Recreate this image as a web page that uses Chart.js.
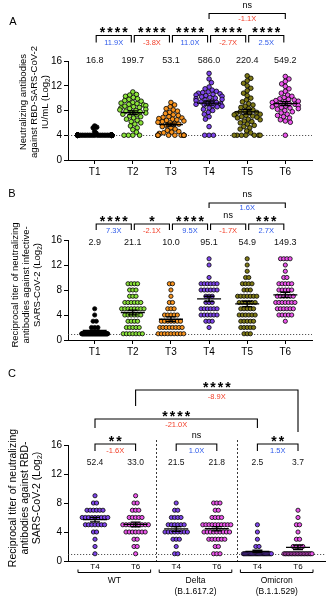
<!DOCTYPE html>
<html><head><meta charset="utf-8">
<script src="https://cdn.jsdelivr.net/npm/chart.js@4.4.1/dist/chart.umd.min.js"></script>
<style>
html,body{margin:0;padding:0;background:#fff;}
body{width:331px;height:605px;overflow:hidden;position:relative;}
canvas{position:absolute;left:0;}
</style></head>
<body>
<canvas id="cA" width="331" height="185" style="top:0px"></canvas>
<canvas id="cB" width="331" height="180" style="top:185px"></canvas>
<canvas id="cC" width="331" height="240" style="top:365px"></canvas>
<script>
const fam = '"Liberation Sans", Arial, Helvetica, sans-serif';

// ---------- Panel A (IU/mL, Log2) ----------
const catsAB = ['T1','T2','T3','T4','T5','T6'];
const gmA = ['16.8','199.7','53.1','586.0','220.4','549.2'];
const sigA = ['****','****','****','****','****'];
const foldA = ['11.9X','-3.8X','11.0X','-2.7X','2.5X'];
const sigA_T4T6 = 'ns';
const foldA_T4T6 = '-1.1X';
const titleA = ['Neutralizing antibodies','against RBD-SARS-CoV-2','IU/mL (Log2)'];
const aT1 = [5.5,5.3,5.2,4.6,4.3,
  4,4,4,4,4,4,4,4,4,4,4,4,4,4,4,4,4,4,4,4,4,4,4,4,4,4,4,4,4,4,4,4,4,4,4,4,4,4,
  4,4,4,4,4,4,4,4,4,4,4,4,4,4,4,4,4,4,4,4,4,4,4,4,4,4,4,4,4,4];
const aT2 = [11.0,10.6,10.5,10.3,10.1,9.9,9.8,9.6,9.5,9.3,9.2,9.1,9.0,8.9,8.8,8.7,8.6,8.5,8.4,8.3,8.2,8.1,8.0,7.9,7.8,7.7,7.6,7.4,7.3,7.1,7.0,6.8,6.6,6.4,6.2,6.0,5.8,5.5,5.2,4.9,4.5,4.0,4.0,4.0,4.0];
const aT3 = [9.3,8.9,8.6,8.3,8.1,7.9,7.7,7.5,7.3,7.2,7.0,6.9,6.8,6.7,6.6,6.5,6.4,6.3,6.2,6.1,6.0,5.9,5.8,5.6,5.4,5.2,5.0,4.8,4.6,4.5,4.4,4.3,4,4,4,4,4,4,4,4,4,4,4];
const aT4 = [14.0,13.1,12.5,11.8,11.5,11.3,11.1,11.0,10.9,10.8,10.7,10.6,10.5,10.4,10.3,10.2,10.1,10.0,9.9,9.8,9.7,9.6,9.5,9.4,9.3,9.2,9.1,9.0,8.9,8.8,8.7,8.6,8.4,8.2,8.0,7.7,7.4,7.0,6.6,5.4,4.0,4.0,4.0];
const aT5 = [13.6,13.2,12.8,12.4,12.0,11.6,11.2,10.8,10.4,10.0,9.7,9.4,9.1,8.9,8.7,8.5,8.3,8.1,7.9,7.8,7.7,7.6,7.5,7.4,7.3,7.2,7.1,7.0,6.9,6.8,6.6,6.5,6.3,6.2,6.0,5.8,5.6,5.4,5.2,5.0,4.7,4.4,4,4,4,4,4,4,4];
const aT6 = [13.5,13.1,12.7,12.3,11.9,11.5,11.1,10.8,10.5,10.3,10.1,9.9,9.8,9.7,9.6,9.5,9.4,9.3,9.2,9.1,9.0,8.9,8.8,8.7,8.6,8.5,8.4,8.3,8.2,8.0,7.8,7.6,7.4,7.2,7.0,6.8,6.5,6.3,6.1,4.0];

// ---------- Panel B (infective SARS-CoV-2, counts per Log2 level) ----------
const gmB = ['2.9','21.1','10.0','95.1','54.9','149.3'];
const sigB = ['****','*','****','ns','***'];
const foldB = ['7.3X','-2.1X','9.5X','-1.7X','2.7X'];
const sigB_T4T6 = 'ns';
const foldB_T4T6 = '1.6X';
const titleB = ['Reciprocal titer of neutralizing','antibodies against infective-','SARS-CoV-2 (Log2)'];
const levelsB = [1,2,3,4,5,6,7,8,9,10,11,12,13];
const bT1 = [60,3,2,1,1,0,0,0,0,0,0,0,0];
const bT2 = [7,5,4,6,8,6,3,3,4,0,0,0,0];
const bT3 = [9,8,7,5,3,2,1,1,2,0,0,0,0];
const bT4 = [0,1,3,6,6,3,3,6,6,1,0,1,1];
const bT5 = [3,5,5,6,5,6,7,3,4,2,1,1,1];
const bT6 = [0,0,1,5,6,7,6,5,5,2,1,1,4];

// ---------- Panel C (variants, counts per Log2 level) ----------
const catsC = ['T4','T6','T4','T6','T4','T6'];
const variantsC = [['WT'],['Delta','(B.1.617.2)'],['Omicron','(B.1.1.529)']];
const gmC = ['52.4','33.0','21.5','21.8','2.5','3.7'];
const sigC = ['**','ns','**'];
const foldC = ['-1.6X','1.0X','1.5X'];
const sigC_WT_Omi_T4 = '****', foldC_WT_Omi_T4 = '-21.0X';
const sigC_WT_Omi_T6 = '****', foldC_WT_Omi_T6 = '-8.9X';
const titleC = ['Reciprocal titer of neutralizing','antibodies against RBD-','SARS-CoV-2 (Log2)'];
const levelsC = [1,2,3,4,5,6,7,8,9];
const cWT_T4 = [1,1,1,2,7,9,6,2,1];
const cWT_T6 = [1,2,2,7,9,5,3,2,1];
const cDelta_T4 = [2,1,3,8,6,4,2,1,0];
const cDelta_T6 = [3,2,6,9,10,4,2,3,0];
const cOmi_T4 = [25,2,1,1,1,0,0,0,0];
const cOmi_T6 = [20,4,2,1,2,1,1,0,0];

const colAB = ['#000000','#8BE33A','#F7931E','#7E45EA','#7F7A16','#EC56EC'];
const colC = ['#7E45EA','#EC56EC','#7E45EA','#EC56EC','#7E45EA','#EC56EC'];
const BLUE = '#2F5BEA', RED = '#F2402A';

function expand(levels, counts){ const out=[]; counts.forEach((n,i)=>{ for(let k=0;k<n;k++) out.push(levels[i]); }); return out; }

// ---- layouts ----
function swarmLayout(vals, ys, d, maxHalf){
  const order = vals.map((v,i)=>i).sort((a,b)=>vals[b]-vals[a]);
  const placed=[]; let flip=1; const out=[];
  for(const i of order){
    const y = ys.getPixelForValue(vals[i]);
    const near = placed.filter(p=>Math.abs(p.y-y)<d);
    const cands=[0];
    near.forEach(p=>{const dx=Math.sqrt(d*d-(p.y-y)*(p.y-y)); cands.push(p.x+dx,p.x-dx);});
    const valid=cands.filter(c=>near.every(p=>(p.x-c)*(p.x-c)+(p.y-y)*(p.y-y)>=d*d-1e-6));
    valid.sort((a,b)=>(Math.abs(a)-Math.abs(b))||(flip>0?b-a:a-b));
    let x=valid[0];
    if(Math.abs(x)>maxHalf){ x=(x>0?1:-1)*maxHalf; }
    if(x!==0) flip=-flip;
    placed.push({x,y}); out.push({v:vals[i],dx:x});
  }
  return out;
}
function rowLayout(vals, sp, maxSpan){
  const m=new Map(); vals.forEach(v=>m.set(v,(m.get(v)||0)+1));
  const out=[];
  for(const [v,n] of m){ const s=n>1?Math.min(sp,maxSpan/(n-1)):0; for(let i=0;i<n;i++) out.push({v,dx:(i-(n-1)/2)*s}); }
  return out;
}

// ---- drawing helpers ----
function drawSubText(ctx, text, size){
  const idx=text.indexOf('Log2');
  ctx.textBaseline='middle';
  if(idx<0){ ctx.textAlign='center'; ctx.fillText(text,0,0); return; }
  const a=text.slice(0,idx+3), b=text.slice(idx+4);
  const fMain=`${size}px ${fam}`, fSub=`${(size*0.68).toFixed(1)}px ${fam}`;
  ctx.font=fMain; const wa=ctx.measureText(a).width, wb=ctx.measureText(b).width;
  ctx.font=fSub; const ws=ctx.measureText('2').width;
  const x0=-(wa+ws+wb)/2; ctx.textAlign='left';
  ctx.font=fMain; ctx.fillText(a,x0,0);
  ctx.font=fSub; ctx.fillText('2',x0+wa,size*0.3);
  ctx.font=fMain; ctx.fillText(b,x0+wa+ws,0);
}
function drawTitle(ctx, lines, xs, cy, size){
  ctx.save(); ctx.fillStyle='#000';
  lines.forEach((ln,i)=>{ ctx.save(); ctx.translate(xs[i],cy); ctx.rotate(-Math.PI/2); ctx.font=`${size}px ${fam}`; drawSubText(ctx,ln,size); ctx.restore(); });
  ctx.restore();
}
function drawSig(ctx, s, x, lineY){
  ctx.save(); ctx.fillStyle='#000'; ctx.textAlign='center'; ctx.textBaseline='alphabetic';
  if(s==='ns'){ ctx.font=`9px ${fam}`; ctx.fillText(s,x,lineY-6); }
  else { ctx.font=`bold 14px ${fam}`; ctx.letterSpacing='2px'; ctx.fillText(s,x+1,lineY+1.5); }
  ctx.restore();
}
function drawBracket(ctx, xs, b){
  const x1=xs.getPixelForValue(b.a)+(b.inset||0), x2=xs.getPixelForValue(b.b)-(b.inset||0);
  ctx.save(); ctx.strokeStyle='#000'; ctx.lineWidth=1.1;
  ctx.beginPath(); ctx.moveTo(x1,b.y+b.tl); ctx.lineTo(x1,b.y); ctx.lineTo(x2,b.y); ctx.lineTo(x2,b.y+b.tr); ctx.stroke();
  ctx.restore();
  const cx=(x1+x2)/2;
  drawSig(ctx,b.sig,cx,b.y);
  ctx.save(); ctx.font=`7.5px ${fam}`; ctx.textAlign='center'; ctx.textBaseline='middle';
  ctx.fillStyle=b.fold.startsWith('-')?RED:BLUE; ctx.fillText(b.fold,cx,b.fy); ctx.restore();
}
function drawMeans(ctx, chart, groups, gm){
  const xs=chart.scales.x, ys=chart.scales.y;
  groups.forEach((vals,i)=>{
    const cx=xs.getPixelForValue(i+1);
    const m=Math.log2(parseFloat(gm[i]));
    const avg=vals.reduce((s,v)=>s+v,0)/vals.length;
    const sd=Math.sqrt(vals.reduce((s,v)=>s+(v-avg)*(v-avg),0)/(vals.length-1));
    const sem=sd/Math.sqrt(vals.length);
    const my=ys.getPixelForValue(m), y1=ys.getPixelForValue(m+sem), y2=ys.getPixelForValue(m-sem);
    ctx.save(); ctx.strokeStyle='#000'; ctx.lineWidth=1.3;
    ctx.beginPath(); ctx.moveTo(cx-12,my); ctx.lineTo(cx+12,my);
    ctx.moveTo(cx,y1); ctx.lineTo(cx,y2);
    ctx.moveTo(cx-5,y1); ctx.lineTo(cx+5,y1); ctx.moveTo(cx-5,y2); ctx.lineTo(cx+5,y2);
    ctx.stroke(); ctx.restore();
  });
}
function drawNumbers(ctx, xs, gm, y, size){
  ctx.save(); ctx.fillStyle='#111'; ctx.font=`${size}px ${fam}`; ctx.textAlign='center'; ctx.textBaseline='middle';
  gm.forEach((t,i)=>ctx.fillText(t,xs.getPixelForValue(i+1),y)); ctx.restore();
}
function drawHLine(ctx, chart, v){
  const ys=chart.scales.y, a=chart.chartArea, y=Math.round(ys.getPixelForValue(v))+0.5;
  ctx.save(); ctx.strokeStyle='#444'; ctx.lineWidth=0.9; ctx.setLineDash([1.2,1.8]);
  ctx.beginPath(); ctx.moveTo(a.left,y); ctx.lineTo(a.right,y); ctx.stroke(); ctx.restore();
}
function drawLetter(ctx, t, x, y){
  ctx.save(); ctx.fillStyle='#000'; ctx.font=`11px ${fam}`; ctx.textAlign='center'; ctx.textBaseline='middle'; ctx.fillText(t,x,y); ctx.restore();
}

function buildPanel(id, P){
  const chart=new Chart(document.getElementById(id),{
    type:'scatter',
    data:{datasets:P.groups.map((g,i)=>({data:[],backgroundColor:P.colors[i],borderColor:'#000',borderWidth:P.bw,pointRadius:P.r,pointHoverRadius:P.r}))},
    options:{
      responsive:false, maintainAspectRatio:false, animation:false, devicePixelRatio:1, events:[],
      layout:{padding:{top:P.padTop,right:P.padRight,bottom:0,left:0}},
      plugins:{legend:{display:false},tooltip:{enabled:false},title:{display:false}},
      scales:{
        x:{type:'linear',min:P.xmin,max:P.xmax,
          afterBuildTicks:s=>{s.ticks=P.cats.map((c,i)=>({value:i+1}));},
          afterFit:s=>{s.height=P.xh;},
          ticks:{callback:v=>P.cats[Math.round(v)-1],color:'#000',font:{family:fam,size:P.xFont},padding:P.xPad,maxRotation:0,autoSkip:false},
          grid:{display:P.xTicks,drawOnChartArea:false,drawTicks:P.xTicks,tickLength:4,color:'#000',lineWidth:1},
          border:{display:true,color:'#000',width:1}},
        y:{min:0,max:16,afterFit:s=>{s.width=68;},
          ticks:{stepSize:2,color:'#000',font:{family:fam,size:10},padding:2},
          grid:{drawOnChartArea:false,drawTicks:true,tickLength:4,color:'#000',lineWidth:1},
          border:{display:true,color:'#000',width:1}}
      }
    },
    plugins:[{id:'ann'+id,beforeDatasetsDraw:c=>P.before(c),afterDatasetsDraw:c=>P.after(c)}]
  });
  const xs=chart.scales.x, ys=chart.scales.y;
  const pxX=xs.getPixelForValue(2)-xs.getPixelForValue(1);
  P.groups.forEach((vals,i)=>{
    const offs=P.layout(vals,ys,i);
    chart.data.datasets[i].data=offs.map(o=>({x:i+1+o.dx/pxX,y:o.v}));
  });
  chart.update();
  return chart;
}

// ---- Panel A ----
const groupsA=[aT1,aT2,aT3,aT4,aT5,aT6];
const swarmD=[2.4,4.4,4.4,4.4,4.4,4.4], swarmHalf=[17,13,13,13,13,13];
const bracketsA = foldA.map((f,i)=>({a:i+1,b:i+2,y:35.5,tl:7,tr:7,inset:1.5,sig:sigA[i],fold:f,fy:43}))
  .concat([{a:4,b:6,y:13.5,tl:5.5,tr:5.5,inset:0,sig:sigA_T4T6,fold:foldA_T4T6,fy:18.5}]);
buildPanel('cA',{
  groups:groupsA, colors:colAB, cats:catsAB, r:2.3, bw:0.8,
  padTop:61, padRight:19, xmin:0.3, xmax:6.7, xh:25, xFont:10, xPad:2, xTicks:true,
  layout:(vals,ys,i)=>swarmLayout(vals,ys,swarmD[i],swarmHalf[i]),
  before:c=>drawHLine(c.ctx,c,4),
  after:c=>{ const ctx=c.ctx, xs=c.scales.x;
    drawMeans(ctx,c,groupsA,gmA); drawNumbers(ctx,xs,gmA,61,9);
    bracketsA.forEach(b=>drawBracket(ctx,xs,b));
    drawTitle(ctx,titleA,[23,34,45],102,9.5); drawLetter(ctx,'A',13,22); }
});

// ---- Panel B ----
const groupsB=[bT1,bT2,bT3,bT4,bT5,bT6].map(c=>expand(levelsB,c));
const bracketsB = foldB.map((f,i)=>({a:i+1,b:i+2,y:39,tl:6,tr:6,inset:1.5,sig:sigB[i],fold:f,fy:46}))
  .concat([{a:4,b:6,y:18,tl:5,tr:5,inset:0,sig:sigB_T4T6,fold:foldB_T4T6,fy:23}]);
buildPanel('cB',{
  groups:groupsB, colors:colAB, cats:catsAB, r:2.1, bw:0.8,
  padTop:55, padRight:19, xmin:0.3, xmax:6.7, xh:25, xFont:10, xPad:2, xTicks:true,
  layout:(vals,ys)=>rowLayout(vals,3.2,26),
  before:c=>drawHLine(c.ctx,c,1),
  after:c=>{ const ctx=c.ctx, xs=c.scales.x;
    drawMeans(ctx,c,groupsB,gmB); drawNumbers(ctx,xs,gmB,58,9);
    bracketsB.forEach(b=>drawBracket(ctx,xs,b));
    drawTitle(ctx,titleB,[15,26,37],100,9.5); drawLetter(ctx,'B',12,9); }
});

// ---- Panel C ----
const groupsC=[cWT_T4,cWT_T6,cDelta_T4,cDelta_T6,cOmi_T4,cOmi_T6].map(c=>expand(levelsC,c));
const bracketsC = foldC.map((f,i)=>({a:2*i+1,b:2*i+2,y:79,tl:7,tr:7,inset:0,sig:sigC[i],fold:f,fy:86}))
  .concat([{a:1,b:5,y:54,tl:9,tr:9,inset:0,sig:sigC_WT_Omi_T4,fold:foldC_WT_Omi_T4,fy:60},
           {a:2,b:6,y:25,tl:16,tr:42,inset:0,sig:sigC_WT_Omi_T6,fold:foldC_WT_Omi_T6,fy:32}]);
buildPanel('cC',{
  groups:groupsC, colors:colC, cats:catsC, r:2.1, bw:0.8,
  padTop:80, padRight:6, xmin:0.335, xmax:6.665, xh:44, xFont:8, xPad:1, xTicks:false,
  layout:(vals,ys)=>rowLayout(vals,3.2,28),
  before:c=>{ drawHLine(c.ctx,c,1);
    const ctx=c.ctx, xs=c.scales.x, a=c.chartArea;
    ctx.save(); ctx.strokeStyle='#222'; ctx.lineWidth=0.9; ctx.setLineDash([2,2]);
    [2.5,4.5].forEach(v=>{ const x=Math.round(xs.getPixelForValue(v))+0.5; ctx.beginPath(); ctx.moveTo(x,75); ctx.lineTo(x,a.bottom); ctx.stroke(); });
    ctx.restore(); },
  after:c=>{ const ctx=c.ctx, xs=c.scales.x;
    drawMeans(ctx,c,groupsC,gmC); drawNumbers(ctx,xs,gmC,98,8.5);
    bracketsC.forEach(b=>drawBracket(ctx,xs,b));
    ctx.save(); ctx.strokeStyle='#000'; ctx.lineWidth=1; ctx.fillStyle='#000';
    ctx.font=`8.5px ${fam}`; ctx.textAlign='center'; ctx.textBaseline='middle';
    variantsC.forEach((lines,g)=>{
      const x1=xs.getPixelForValue(2*g+1)-17, x2=xs.getPixelForValue(2*g+2)+15, y=207.5;
      ctx.beginPath(); ctx.moveTo(x1,y-3); ctx.lineTo(x1,y); ctx.lineTo(x2,y); ctx.lineTo(x2,y-3); ctx.stroke();
      lines.forEach((t,k)=>ctx.fillText(t,(x1+x2)/2,216+k*11));
    });
    ctx.restore();
    drawTitle(ctx,titleC,[13,25,37],133,10.5); drawLetter(ctx,'C',12,8.5); }
});
</script>
</body></html>
